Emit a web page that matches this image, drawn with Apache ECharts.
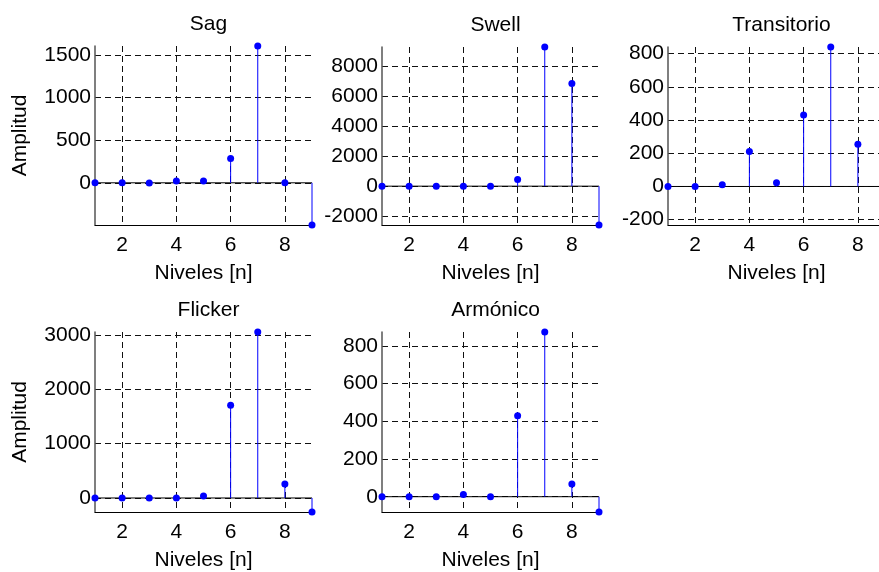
<!DOCTYPE html>
<html>
<head>
<meta charset="utf-8">
<script src="https://cdn.jsdelivr.net/npm/echarts@6/dist/echarts.min.js"></script>
<style>
  html, body { margin: 0; padding: 0; background: #fff; overflow: hidden; }
  #chart { width: 920px; height: 572px; }
</style>
</head>
<body>
<div id="chart"></div>
<script>
// Wavelet level amplitudes per disturbance type (levels 1..9)
const niveles = [1, 2, 3, 4, 5, 6, 7, 8, 9];
const sag = [0, 0, -3, 20, 20, 285, 1605, 0, -495];
const swell = [0, 0, 0, 0, 0, 440, 9280, 6850, -2590];
const transitorio = [0, 0, 10, 210, 22, 430, 840, 254, -232];
const flicker = [0, 0, 0, 0, 37, 1705, 3055, 258, -258];
const armonico = [0, 0, 0, 12, 0, 429, 873, 67, -81];

const titles = ['Sag', 'Swell', 'Transitorio', 'Flicker', 'Armónico'];
const xTicks = [2, 4, 6, 8];
const yTicks = [
  [0, 500, 1000, 1500],
  [-2000, 0, 2000, 4000, 6000, 8000],
  [-200, 0, 200, 400, 600, 800],
  [0, 1000, 2000, 3000],
  [0, 200, 400, 600, 800]
];
const seriesData = [sag, swell, transitorio, flicker, armonico];

// panel boxes: left, top, width, height
const boxes = [
  [95, 46, 217, 179],
  [382, 47, 217, 178],
  [668, 47, 217, 178],
  [95, 332, 217, 180],
  [382, 332, 217, 180]
];

const FONT = 'Liberation Sans, Arial, sans-serif';
const FS = 21;
const BLUE = '#0000ff';
const gridLine = { show: true, lineStyle: { color: '#111', width: 1, type: [6, 4] } };
const plain = v => String(v);

const grids = [], xAxes = [], yAxes = [], series = [], titleList = [];

boxes.forEach((b, i) => {
  const vals = seriesData[i];
  const pts = niveles.map((n, k) => [n, vals[k]]);
  grids.push({ left: b[0], top: b[1], width: b[2], height: b[3] });
  titleList.push({
    text: titles[i],
    left: b[0] + b[2] / 2,
    top: b[1] - 37,
    textAlign: 'center',
    textStyle: { fontFamily: FONT, fontSize: FS, fontWeight: 'normal', color: '#000' }
  });
  xAxes.push({
    type: 'value', gridIndex: i, min: 1, max: 9,
    name: 'Niveles [n]', nameLocation: 'middle', nameGap: 38,
    nameTextStyle: { fontFamily: FONT, fontSize: FS, color: '#000' },
    axisLine: { show: true, onZero: false, lineStyle: { color: '#000', width: 1 } },
    axisTick: { show: false, customValues: xTicks },
    axisLabel: { customValues: xTicks, margin: 10, fontFamily: FONT, fontSize: FS, color: '#000', formatter: plain },
    splitLine: gridLine
  });
  const col0 = (i === 0 || i === 3);
  yAxes.push({
    type: 'value', gridIndex: i,
    min: Math.min(...vals), max: Math.max(...vals),
    name: col0 ? 'Amplitud' : '', nameLocation: 'middle', nameRotate: 90, nameGap: 64,
    nameTextStyle: { fontFamily: FONT, fontSize: FS, color: '#000' },
    axisLine: { show: true, lineStyle: { color: '#555', width: 1.5 } },
    axisTick: { show: false, customValues: yTicks[i] },
    axisLabel: { customValues: yTicks[i], margin: 4, fontFamily: FONT, fontSize: FS, color: '#000', formatter: plain },
    splitLine: gridLine
  });
  // stem baseline
  series.push({
    type: 'line', xAxisIndex: i, yAxisIndex: i,
    data: [[niveles[0], 0], [niveles[niveles.length - 1], 0]],
    symbol: 'none', lineStyle: { color: '#000', width: 1 }, silent: true, z: 3
  });
  // stems and markers
  series.push({
    type: 'custom', xAxisIndex: i, yAxisIndex: i, data: pts, z: 4, clip: false,
    renderItem: function (params, api) {
      const top = api.coord([api.value(0), api.value(1)]);
      const base = api.coord([api.value(0), 0]);
      return {
        type: 'group',
        children: [
          { type: 'line', shape: { x1: top[0], y1: base[1], x2: top[0], y2: top[1] },
            style: { stroke: BLUE, lineWidth: 1 } },
          { type: 'circle', shape: { cx: top[0], cy: top[1], r: 3.5 },
            style: { fill: BLUE } }
        ]
      };
    }
  });
});

const chart = echarts.init(document.getElementById('chart'), null, { renderer: 'canvas' });
chart.setOption({
  animation: false,
  backgroundColor: '#fff',
  title: titleList,
  grid: grids,
  xAxis: xAxes,
  yAxis: yAxes,
  series: series
});
</script>
</body>
</html>
